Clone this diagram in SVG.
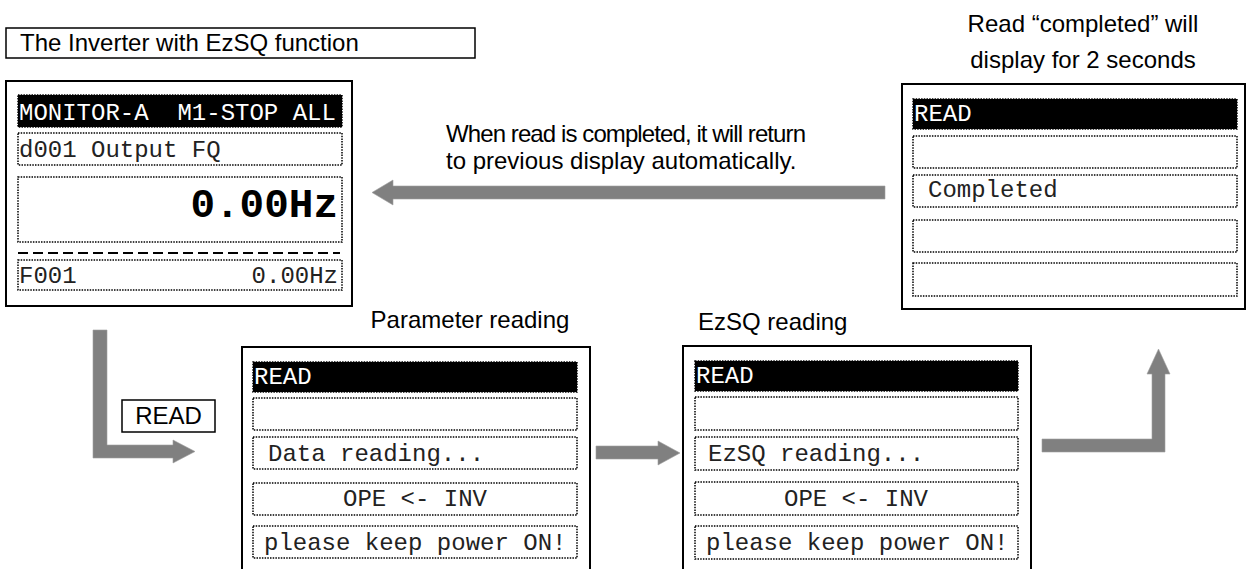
<svg xmlns="http://www.w3.org/2000/svg" width="1247" height="569" viewBox="0 0 1247 569">
<style>
.outer{fill:#fff;stroke:#000;stroke-width:2}
.row{fill:#fff;stroke:#000;stroke-width:1.5;stroke-dasharray:1.5 1.2}
.hdr{fill:#000;stroke:#000;stroke-width:1.5;stroke-dasharray:1.5 1.2}
.mono{font-family:"Liberation Mono","Courier New",monospace;font-size:24px;fill:#222}
.monow{font-family:"Liberation Mono","Courier New",monospace;font-size:24px;fill:#fff}
.big{font-family:"Liberation Mono","Courier New",monospace;font-size:41px;font-weight:bold;fill:#000}
.sans{font-family:"Liberation Sans",Arial,sans-serif;font-size:24px;fill:#000}
.arrow{fill:#808080;stroke:#a0a0a0;stroke-width:0.6}
.lbl{fill:#fff;stroke:#000;stroke-width:1.5}
</style>

<g id="title">
<rect x="6" y="28" width="469" height="30" class="lbl"/>
<text x="20" y="51" class="sans">The Inverter with EzSQ function</text>
</g>

<g id="monitor">
<rect x="6" y="81" width="346" height="225" class="outer"/>
<rect x="18" y="95" width="324" height="32" class="hdr"/>
<text x="19" y="120" class="monow" xml:space="preserve">MONITOR-A  M1-STOP ALL</text>
<rect x="18" y="133" width="324" height="32" class="row"/>
<text x="19" y="157" class="mono">d001 Output FQ</text>
<rect x="18" y="177" width="324" height="65" class="row"/>
<text x="338" y="217" class="big" text-anchor="end">0.00Hz</text>
<line x1="18" y1="253" x2="340" y2="253" stroke="#000" stroke-width="2" stroke-dasharray="10 5"/>
<rect x="18" y="260" width="324" height="30" class="row"/>
<text x="19" y="283" class="mono">F001</text>
<text x="338" y="283" class="mono" text-anchor="end">0.00Hz</text>
</g>

<g id="completed-note">
<text x="1083" y="32" class="sans" text-anchor="middle">Read “completed” will</text>
<text x="1083" y="68" class="sans" text-anchor="middle">display for 2 seconds</text>
</g>

<g id="completed">
<rect x="902" y="84" width="343" height="225" class="outer"/>
<rect x="913" y="99" width="324" height="30" class="hdr"/>
<text x="914" y="121" class="monow">READ</text>
<rect x="913" y="136" width="324" height="32" class="row"/>
<rect x="913" y="175" width="324" height="32" class="row"/>
<text x="928" y="197" class="mono">Completed</text>
<rect x="913" y="220" width="324" height="32" class="row"/>
<rect x="913" y="263" width="324" height="33" class="row"/>
</g>

<g id="return-note">
<text x="446" y="142" class="sans" textLength="360" lengthAdjust="spacing">When read is completed, it will return</text>
<text x="446" y="169" class="sans">to previous display automatically.</text>
</g>

<g id="param-label">
<text x="470" y="328" class="sans" text-anchor="middle">Parameter reading</text>
</g>

<g id="param">
<rect x="242" y="347" width="348" height="240" class="outer"/>
<rect x="253" y="362" width="324" height="30" class="hdr"/>
<text x="254" y="384" class="monow">READ</text>
<rect x="253" y="398" width="324" height="32" class="row"/>
<rect x="253" y="437" width="324" height="32" class="row"/>
<text x="268" y="461" class="mono">Data reading...</text>
<rect x="253" y="483" width="324" height="32" class="row"/>
<text x="415" y="506" class="mono" text-anchor="middle">OPE &lt;- INV</text>
<rect x="253" y="526" width="324" height="32" class="row"/>
<text x="264" y="550" class="mono">please keep power ON!</text>
</g>

<g id="ezsq-label">
<text x="698" y="330" class="sans">EzSQ reading</text>
</g>

<g id="ezsq">
<rect x="683" y="346" width="348" height="240" class="outer"/>
<rect x="695" y="361" width="323" height="30" class="hdr"/>
<text x="696" y="383" class="monow">READ</text>
<rect x="695" y="397" width="323" height="33" class="row"/>
<rect x="695" y="437" width="323" height="33" class="row"/>
<text x="708" y="461" class="mono">EzSQ reading...</text>
<rect x="695" y="482" width="323" height="33" class="row"/>
<text x="856" y="506" class="mono" text-anchor="middle">OPE &lt;- INV</text>
<rect x="695" y="526" width="323" height="33" class="row"/>
<text x="706" y="550" class="mono">please keep power ON!</text>
</g>

<g id="read-key">
<rect x="122" y="400" width="93" height="32" class="lbl"/>
<text x="168.5" y="424" class="sans" text-anchor="middle">READ</text>
</g>

<g id="connectors">
<polygon class="arrow" points="885,186 393,186 393,180 372,192.5 393,205 393,199 885,199"/>
<polygon class="arrow" points="93,330 107,330 107,445 173,445 173,440 195,451.5 173,463 173,458 93,458"/>
<polygon class="arrow" points="596,446 658,446 658,441 680,453 658,465 658,459 596,459"/>
<polygon class="arrow" points="1042,439 1152,439 1152,374 1147,374 1158.5,349 1170,374 1165,374 1165,452 1042,452"/>
</g>
</svg>
